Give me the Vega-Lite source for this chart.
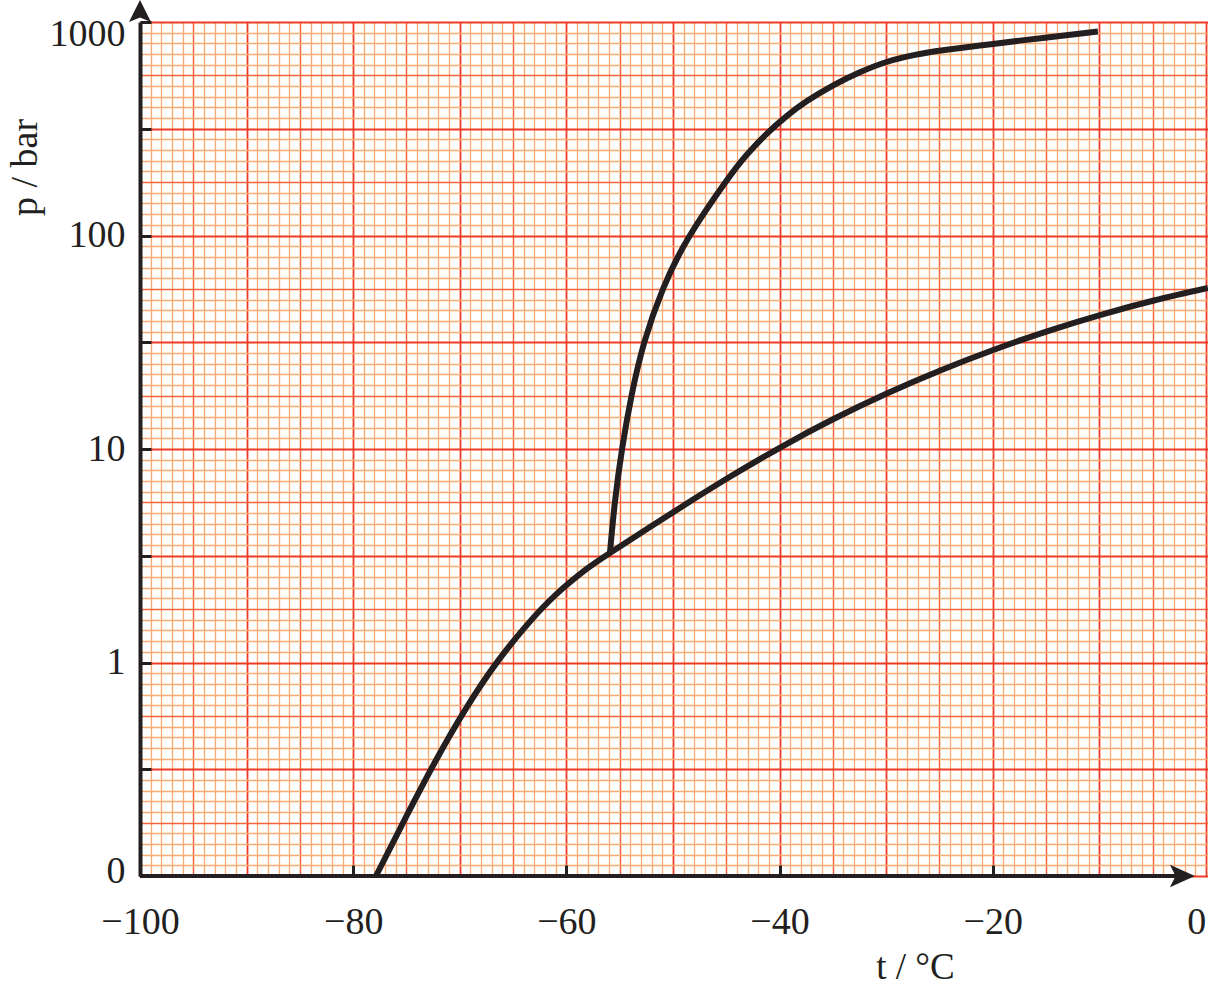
{
  "$schema": "https://vega.github.io/schema/vega-lite/v6.json",
  "width": 1068,
  "height": 854,
  "autosize": {"type": "none"},
  "padding": {"left": 140, "top": 22, "right": 0, "bottom": 111},
  "background": "white",
  "config": {"view": {"stroke": null}, "font": "Liberation Serif"},
  "datasets": {
    "curves": [
      {"series": "vapour", "t": -77.86, "p": 0.1},
      {"series": "vapour", "t": -75.05, "p": 0.1886},
      {"series": "vapour", "t": -72.23, "p": 0.3486},
      {"series": "vapour", "t": -69.42, "p": 0.6083},
      {"series": "vapour", "t": -66.6, "p": 0.988},
      {"series": "vapour", "t": -63.79, "p": 1.481},
      {"series": "vapour", "t": -60.98, "p": 2.08},
      {"series": "vapour", "t": -58.16, "p": 2.727},
      {"series": "vapour", "t": -55.91, "p": 3.26},
      {"series": "vapour", "t": -49.94, "p": 5.07},
      {"series": "vapour", "t": -44.85, "p": 7.31},
      {"series": "vapour", "t": -39.94, "p": 10.16},
      {"series": "vapour", "t": -35.03, "p": 13.74},
      {"series": "vapour", "t": -29.94, "p": 18.2},
      {"series": "vapour", "t": -24.86, "p": 23.4},
      {"series": "vapour", "t": -19.95, "p": 29.1},
      {"series": "vapour", "t": -15.04, "p": 35.4},
      {"series": "vapour", "t": -9.94, "p": 42.4},
      {"series": "vapour", "t": -4.88, "p": 49.6},
      {"series": "vapour", "t": 0.19, "p": 56.8},
      {"series": "melting", "t": -55.91, "p": 3.26},
      {"series": "melting", "t": -55.44, "p": 5.65},
      {"series": "melting", "t": -54.76, "p": 10.08},
      {"series": "melting", "t": -53.87, "p": 17.9},
      {"series": "melting", "t": -52.67, "p": 31.8},
      {"series": "melting", "t": -50.91, "p": 56.6},
      {"series": "melting", "t": -48.41, "p": 100},
      {"series": "melting", "t": -44.96, "p": 181},
      {"series": "melting", "t": -43.09, "p": 238.5},
      {"series": "melting", "t": -41.21, "p": 299.4},
      {"series": "melting", "t": -39.33, "p": 362.5},
      {"series": "melting", "t": -37.46, "p": 425.3},
      {"series": "melting", "t": -34.96, "p": 505.2},
      {"series": "melting", "t": -32.46, "p": 581.4},
      {"series": "melting", "t": -29.96, "p": 649.6},
      {"series": "melting", "t": -27.3, "p": 701.2},
      {"series": "melting", "t": -24.67, "p": 737.7},
      {"series": "melting", "t": -19.98, "p": 789.6},
      {"series": "melting", "t": -15.29, "p": 842.3},
      {"series": "melting", "t": -10.13, "p": 902.9}
    ]
  },
  "layer": [
    {
      "data": {"values": [{"t": -100, "p": 0.1}]},
      "mark": {"type": "point", "opacity": 0},
      "encoding": {
        "x": {
          "field": "t", "type": "quantitative",
          "scale": {"domain": [-100, 0.2], "nice": false, "zero": false},
          "axis": {
            "orient": "top", "title": null, "labels": false, "ticks": false, "domain": false,
            "grid": true, "tickCount": 100, "gridOpacity": 1, "zindex": 0,
            "gridColor": {"condition": [
              {"test": "datum.value % 10 === 0", "value": "#ee3b24"},
              {"test": "datum.value % 5 === 0", "value": "#f2643a"}
            ], "value": "#f9aa72"},
            "gridWidth": {"condition": [
              {"test": "datum.value % 10 === 0", "value": 1.8},
              {"test": "datum.value % 5 === 0", "value": 1.5}
            ], "value": 1.3}
          }
        },
        "y": {
          "field": "p", "type": "quantitative",
          "scale": {"type": "log", "domain": [0.1, 1000], "nice": false},
          "axis": {
            "orient": "right", "title": null, "labels": false, "ticks": false, "domain": false,
            "grid": true, "gridOpacity": 1, "zindex": 0,
            "values": [0.1, 0.112202, 0.125893, 0.141254, 0.158489, 0.177828, 0.199526, 0.223872, 0.251189, 0.281838,
                       0.316228, 0.354813, 0.398107, 0.446684, 0.501187, 0.562341, 0.630957, 0.707946, 0.794328, 0.891251,
                       1, 1.12202, 1.25893, 1.41254, 1.58489, 1.77828, 1.99526, 2.23872, 2.51189, 2.81838,
                       3.16228, 3.54813, 3.98107, 4.46684, 5.01187, 5.62341, 6.30957, 7.07946, 7.94328, 8.91251,
                       10, 11.2202, 12.5893, 14.1254, 15.8489, 17.7828, 19.9526, 22.3872, 25.1189, 28.1838,
                       31.6228, 35.4813, 39.8107, 44.6684, 50.1187, 56.2341, 63.0957, 70.7946, 79.4328, 89.1251,
                       100, 112.202, 125.893, 141.254, 158.489, 177.828, 199.526, 223.872, 251.189, 281.838,
                       316.228, 354.813, 398.107, 446.684, 501.187, 562.341, 630.957, 707.946, 794.328, 891.251, 1000],
            "gridColor": {"condition": [
              {"test": "round(20*log(datum.value)/LN10) % 10 === 0", "value": "#ee3b24"},
              {"test": "round(20*log(datum.value)/LN10) % 5 === 0", "value": "#f2643a"}
            ], "value": "#f9aa72"},
            "gridWidth": {"condition": [
              {"test": "round(20*log(datum.value)/LN10) % 10 === 0", "value": 1.8},
              {"test": "round(20*log(datum.value)/LN10) % 5 === 0", "value": 1.5}
            ], "value": 1.3}
          }
        }
      }
    },
    {
      "data": {"name": "curves"},
      "mark": {"type": "line", "color": "#231f20", "strokeWidth": 6, "interpolate": "natural", "strokeCap": "butt", "strokeJoin": "round"},
      "encoding": {
        "detail": {"field": "series"},
        "x": {
          "field": "t", "type": "quantitative",
          "scale": {"domain": [-100, 0.2], "nice": false, "zero": false},
          "axis": {
            "orient": "bottom",
            "values": [-100, -80, -60, -40, -20, 0],
            "grid": false, "domain": false, "zindex": 1,
            "tickSize": -11, "tickWidth": 3, "tickColor": "#231f20",
            "tickOpacity": {"condition": {"test": "datum.value === 0", "value": 0}, "value": 1},
            "labelFont": "Liberation Serif", "labelFontSize": 38, "labelColor": "#231f20",
            "labelBaseline": "alphabetic", "labelPadding": 68, "labelFlush": false, "labelOverlap": false,
            "labelAlign": {"condition": {"test": "datum.value === 0", "value": "right"}, "value": "center"},
            "title": "t / °C", "titleFont": "Liberation Serif", "titleFontSize": 37, "titleFontWeight": "normal",
            "titleColor": "#231f20", "titleX": 775, "titleY": 102, "titleBaseline": "alphabetic", "titleAlign": "center"
          }
        },
        "y": {
          "field": "p", "type": "quantitative",
          "scale": {"type": "log", "domain": [0.1, 1000], "nice": false},
          "axis": {
            "orient": "left",
            "values": [0.1, 0.3162, 1, 3.162, 10, 31.62, 100, 316.2, 1000],
            "format": ".0f",
            "labelExpr": "abs(log(datum.value)/LN10 - round(log(datum.value)/LN10)) < 0.01 ? datum.label : ''",
            "grid": false, "domain": true, "domainWidth": 4, "domainColor": "#231f20", "zindex": 1,
            "tickSize": -11, "tickWidth": 3, "tickColor": "#231f20",
            "labelFont": "Liberation Serif", "labelFontSize": 38, "labelColor": "#231f20",
            "labelPadding": 26, "labelFlush": false, "labelOverlap": false,
            "labelBaseline": "middle",
            "labelOffset": {"condition": [
              {"test": "datum.value >= 999", "value": 12},
              {"test": "datum.value < 0.2", "value": -5}
            ], "value": 0},
            "title": "p / bar", "titleFont": "Liberation Serif", "titleFontSize": 38, "titleFontWeight": "normal",
            "titleColor": "#231f20", "titleAngle": 270, "titleX": -104, "titleY": 145, "titleBaseline": "alphabetic", "titleAlign": "center"
          }
        }
      }
    },
    {
      "data": {"values": [{"t": -100, "t2": -2.5, "p": 0.1}]},
      "mark": {"type": "rule", "color": "#231f20", "strokeWidth": 4},
      "encoding": {
        "x": {"field": "t", "type": "quantitative", "axis": null},
        "x2": {"field": "t2"},
        "y": {"field": "p", "type": "quantitative", "axis": null}
      }
    },
    {
      "data": {"values": [{"t": -100, "p": 1126}]},
      "mark": {"type": "point", "shape": "M0,-1L1,1L0,0.6L-1,1Z", "size": 484, "filled": true, "color": "#231f20", "opacity": 1, "strokeWidth": 0},
      "encoding": {
        "x": {"field": "t", "type": "quantitative", "axis": null},
        "y": {"field": "p", "type": "quantitative", "axis": null}
      }
    },
    {
      "data": {"values": [{"t": -2.2, "p": 0.1}]},
      "mark": {"type": "point", "shape": "M1,0L-1,-0.9L-0.55,0L-1,0.9Z", "size": 625, "filled": true, "color": "#231f20", "opacity": 1, "strokeWidth": 0},
      "encoding": {
        "x": {"field": "t", "type": "quantitative", "axis": null},
        "y": {"field": "p", "type": "quantitative", "axis": null}
      }
    }
  ],
  "resolve": {"axis": {"x": "independent", "y": "independent"}}
}
